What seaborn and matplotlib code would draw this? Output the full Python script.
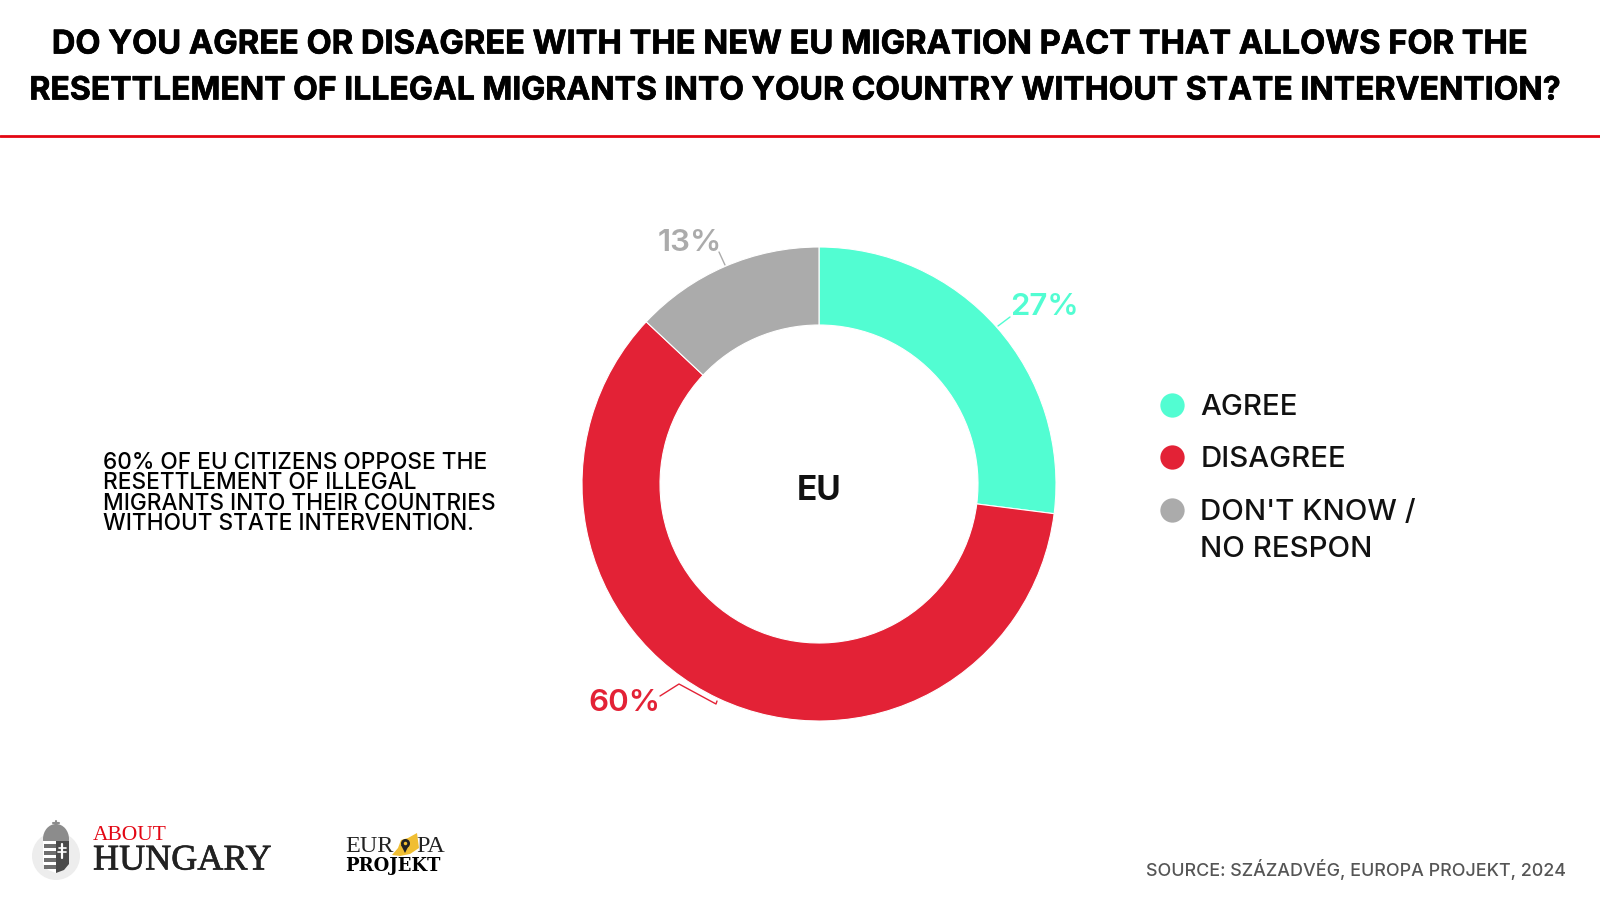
import matplotlib
matplotlib.use("Agg")
import matplotlib.pyplot as plt
import matplotlib.patheffects as pe
import seaborn as sns
import numpy as np
from matplotlib.lines import Line2D
from matplotlib.patches import Circle, Rectangle, Polygon, Ellipse

title_lines = ["DO YOU AGREE OR DISAGREE WITH THE NEW EU MIGRATION PACT THAT ALLOWS FOR THE",
               "RESETTLEMENT OF ILLEGAL MIGRANTS INTO YOUR COUNTRY WITHOUT STATE INTERVENTION?"]
categories = ["AGREE", "DISAGREE", "DON'T KNOW /\nNO RESPON"]
values = [27, 60, 13]
colors = ["#52FDD2", "#E32236", "#ABABAB"]
note_lines = ["60% OF EU CITIZENS OPPOSE THE", "RESETTLEMENT OF ILLEGAL",
              "MIGRANTS INTO THEIR COUNTRIES", "WITHOUT STATE INTERVENTION."]
center_label = "EU"
source = "SOURCE: SZÁZADVÉG, EUROPA PROJEKT, 2024"

sns.set_theme(style="white")
plt.rcParams["font.family"] = ["Inter", "DejaVu Sans"]
palette = sns.color_palette(colors)

fig = plt.figure(figsize=(16, 9), dpi=100, facecolor="white")

# full page axes in pixels for the text around the chart
page = fig.add_axes([0, 0, 1, 1])
page.set_xlim(0, 1600)
page.set_ylim(900, 0)
page.axis("off")

# donut centre 819,484, outer radius 237, inner 159
ax = fig.add_axes([(819 - 237) / 1600, 1 - (484 + 237) / 900, 474 / 1600, 474 / 900])
wedges, _ = ax.pie(values, colors=palette, startangle=90, counterclock=False, radius=1,
                   wedgeprops={"width": 1 - 159 / 237, "edgecolor": "white", "linewidth": 0.8})
ax.set_xlim(-1, 1)
ax.set_ylim(-1, 1)
ax.text(0, -0.03, center_label, ha="center", va="center", fontsize=24, fontweight="bold", color="#111111")

# title and rule
heavy = [pe.withStroke(linewidth=0.5, foreground="black")]
for line, x, y, size in zip(title_lines, [790, 795], [45, 91], [23.5, 23.05]):
    page.text(x, y, line, ha="center", va="center", fontsize=size, fontweight="bold", color="black",
              path_effects=heavy)
page.plot([0, 1600], [136, 136], color="#E30613", lw=2)

# note on the left
for line, y in zip(note_lines, [463, 483, 504, 524]):
    page.text(103, y, line, ha="left", va="center", fontsize=16.3, fontweight="medium", color="black")

# percent labels with leader lines
leaders = [[(998, 326), (1010, 317)],
           [(717, 701), (716, 704), (679, 684), (660, 696)],
           [(725, 265), (719, 252)]]
label_x = [1010, 588, 658]
label_y = [307, 703, 243]
for val, col, x, y, pts in zip(values, palette, label_x, label_y, leaders):
    page.text(x, y, f"{val}%", ha="left", va="center", fontsize=22.5, fontweight="semibold", color=col)
    xs, ys = zip(*pts)
    page.plot(xs, ys, color=col, lw=1)

# legend
handles = [Line2D([], [], ls="", marker="o", ms=17.5, color=c, markeredgewidth=0) for c in palette]
leg = page.legend(handles, categories, loc="upper left", bbox_to_anchor=(1154 / 1600, 1 - 394 / 900),
                  bbox_transform=fig.transFigure, frameon=False, fontsize=21.2, labelspacing=0.86,
                  handlelength=1.2, handletextpad=0.37, borderpad=0, borderaxespad=0, numpoints=1,
                  labelcolor="#111111")
for t in leg.get_texts():
    t.set_linespacing(1.49)
    t.set_fontweight("medium")
h = leg.legend_handles[2]
h.set_ydata(np.asarray(h.get_ydata()) + 15)

# source
page.text(1566, 869, source, ha="right", va="center", fontsize=12.9, fontweight="medium", color="#555555")

# About Hungary logo
page.add_patch(Circle((56, 856), 24, color="#EDEDED", lw=0))
page.add_patch(Ellipse((56, 839), 26, 30, color="#8C8C8C", lw=0))
page.plot([56, 56], [821, 826], color="#8C8C8C", lw=1.5)
page.plot([53, 59], [823, 823], color="#8C8C8C", lw=1.5)
page.add_patch(Polygon([(43, 841), (56, 841), (56, 873), (48, 870), (43, 864)], color="white", lw=0))
for y in [844, 851, 858, 865]:
    page.add_patch(Rectangle((44, y), 12, 3.5, color="#6E6E6E", lw=0))
page.add_patch(Polygon([(56, 841), (69, 841), (69, 864), (64, 870), (56, 873)], color="#4A4A4A", lw=0))
page.plot([62, 62], [844, 858], color="white", lw=1.6)
page.plot([58.5, 65.5], [848, 848], color="white", lw=1.2)
page.plot([58, 66], [852, 852], color="white", lw=1.2)
page.text(93, 836, "ABOUT", ha="left", va="center", family="Liberation Serif", fontsize=15.5, color="#E30613")
page.text(93, 861, "HUNGARY", ha="left", va="center", family="Liberation Serif", fontsize=26, color="#222222",
          path_effects=[pe.withStroke(linewidth=0.5, foreground="#222222")])

# Europa Projekt logo
page.add_patch(Polygon([(392, 855), (398, 848), (401, 840), (408, 838), (417, 833), (419, 848), (410, 854), (400, 856)],
                       color="#F0BE32", lw=0))
page.text(345, 846, "EUR", ha="left", va="center", family="Liberation Serif", fontsize=17.5, color="#222222")
page.text(445, 846, "PA", ha="right", va="center", family="Liberation Serif", fontsize=17.5, color="#222222")
page.plot([405], [849], marker="v", ms=6, color="#222222", mew=0)
page.plot([405], [843], marker="o", ms=6.5, color="#222222", mew=0)
page.plot([405], [843], marker="o", ms=2.5, color="#F0BE32", mew=0)
page.text(345, 866, "PROJEKT", ha="left", va="center", family="DejaVu Serif", fontsize=13, fontweight="bold", color="black")

fig.savefig("out.png", dpi=100)
